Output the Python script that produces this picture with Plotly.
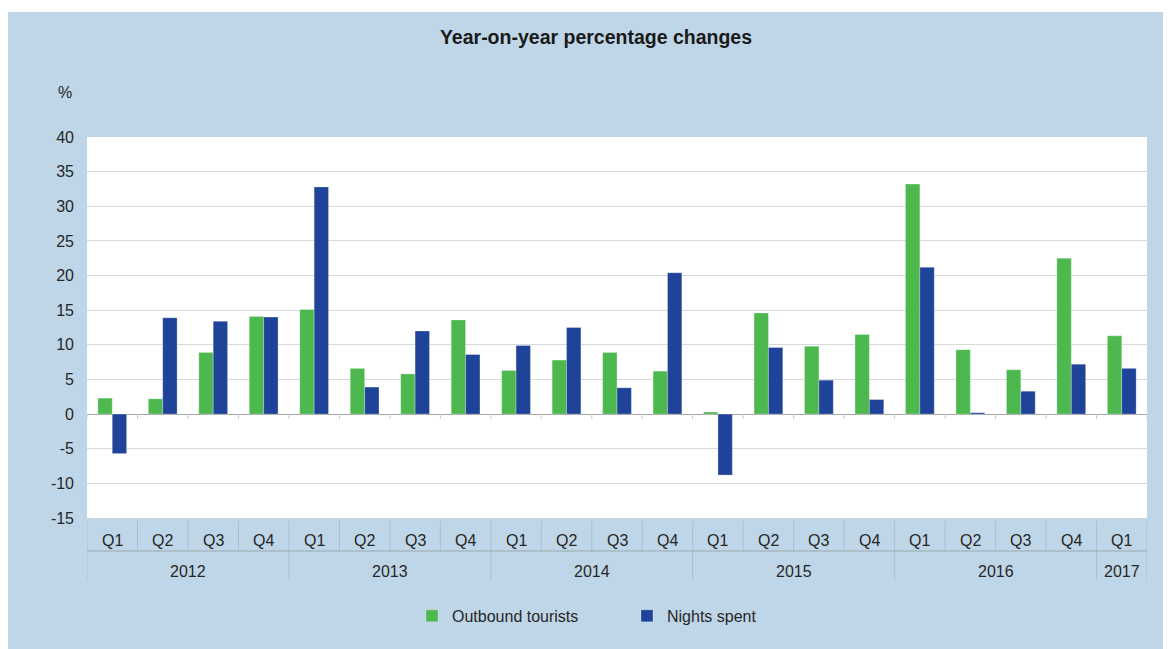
import plotly.graph_objects as go

# ---- data ----
years = ["2012", "2013", "2014", "2015", "2016", "2017"]
quarters_per_year = [4, 4, 4, 4, 4, 1]
quarter_names = ["Q1", "Q2", "Q3", "Q4"]

outbound_tourists = [2.3, 2.2, 8.9, 14.1,
                     15.1, 6.6, 5.8, 13.6,
                     6.3, 7.8, 8.9, 6.2,
                     0.3, 14.6, 9.8, 11.5,
                     33.2, 9.3, 6.4, 22.5,
                     11.3]
nights_spent = [-5.7, 13.9, 13.4, 14.0,
                32.8, 3.9, 12.0, 8.6,
                9.9, 12.5, 3.8, 20.4,
                -8.8, 9.6, 4.9, 2.1,
                21.2, 0.2, 3.3, 7.2,
                6.6]

y_tick_values = [-15, -10, -5, 0, 5, 10, 15, 20, 25, 30, 35, 40]
y_tick_labels = ["-15", "-10", "-5", "0", "5", "10", "15", "20", "25", "30", "35", "40"]

# build category labels
cat_year, cat_q = [], []
for y, n in zip(years, quarters_per_year):
    for q in quarter_names[:n]:
        cat_year.append(y)
        cat_q.append(q)
cats = [f"{y} {q}" for y, q in zip(cat_year, cat_q)]

FONT = "Liberation Sans, Arial, sans-serif"
TXT = "#262626"
BG = "#BFD6E8"
GREEN = "#4DB84E"
BLUE = "#1F4399"

fig = go.Figure()
fig.add_trace(go.Bar(x=cats, y=outbound_tourists, name="Outbound tourists",
                     marker=dict(color=GREEN, line=dict(color="rgba(255,255,255,0.35)", width=0.8))))
fig.add_trace(go.Bar(x=cats, y=nights_spent, name="Nights spent",
                     marker=dict(color=BLUE, line=dict(color="rgba(255,255,255,0.35)", width=0.8))))

shapes = []
n = len(cats)
for i in range(n + 1):
    shapes.append(dict(type="line", xref="x", yref="paper", x0=i - 0.5, x1=i - 0.5,
                       ysizemode="pixel", yanchor=0, y0=-3, y1=-33,
                       line=dict(color="#A9BFD0", width=1)))
    shapes.append(dict(type="line", xref="x", yref="y", x0=i - 0.5, x1=i - 0.5,
                       ysizemode="pixel", yanchor=0, y0=0, y1=-5,
                       line=dict(color="#C8CCD0", width=1)))
bounds = [0]
for c in quarters_per_year:
    bounds.append(bounds[-1] + c)
for b in bounds:
    shapes.append(dict(type="line", xref="x", yref="paper", x0=b - 0.5, x1=b - 0.5,
                       ysizemode="pixel", yanchor=0, y0=-33, y1=-62,
                       line=dict(color="#A9BFD0", width=1)))
shapes.append(dict(type="line", xref="paper", yref="paper", x0=0, x1=1,
                   ysizemode="pixel", yanchor=0, y0=-33, y1=-33,
                   line=dict(color="#9EA7AF", width=1.2)))
# white strip at very top (page margin look)
shapes.append(dict(type="rect", xref="paper", yref="paper", x0=-0.2, x1=1.2,
                   ysizemode="pixel", yanchor=1, y0=125, y1=140,
                   fillcolor="white", line=dict(width=0), layer="above"))

annotations = []
for i, q in enumerate(cat_q):
    annotations.append(dict(x=cats[i], y=0, xref="x", yref="paper", text=q, showarrow=False,
                            yanchor="middle", yshift=-22, font=dict(family=FONT, size=16, color=TXT)))
for k, y in enumerate(years):
    mid = (bounds[k] + bounds[k + 1] - 1) / 2
    annotations.append(dict(x=mid, y=0, xref="x", yref="paper", text=y, showarrow=False,
                            yanchor="middle", yshift=-53, font=dict(family=FONT, size=16, color=TXT)))
annotations.append(dict(x=0, y=1, xref="paper", yref="paper", xshift=-22, yshift=45,
                        text="%", showarrow=False, xanchor="center", yanchor="middle",
                        font=dict(family=FONT, size=16, color=TXT)))

W, H = 1163, 641
fig.update_layout(
    width=W, height=H,
    paper_bgcolor=BG, plot_bgcolor="white",
    margin=dict(l=79, r=24, t=129, b=131),
    font=dict(family=FONT, size=16, color=TXT),
    title=dict(text="<b>Year-on-year percentage changes</b>", x=(596 - 8) / W, xanchor="center",
               y=1 - 29 / H, yanchor="middle", font=dict(family=FONT, size=19.5, color="#1a1a1a")),
    barmode="group", bargap=0.43, bargroupgap=0,
    showlegend=True,
    legend=dict(orientation="h", x=0.3066, xanchor="left", y=-0.257, yanchor="middle",
                font=dict(family=FONT, size=16, color=TXT), bgcolor="rgba(0,0,0,0)",
                entrywidth=170, entrywidthmode="pixels", itemwidth=30),
    shapes=shapes,
    annotations=annotations,
)

fig.update_xaxes(showticklabels=False, showgrid=False, showline=True,
                 linecolor="#C9D6E0", linewidth=1, mirror=False, range=[-0.5, n - 0.5])
fig.update_yaxes(range=[-15, 40], tickvals=y_tick_values, ticktext=y_tick_labels,
                 showgrid=True, gridcolor="#D9D9D9", gridwidth=1,
                 zeroline=True, zerolinecolor="#A6A6A6", zerolinewidth=1,
                 ticks="", ticklabelstandoff=12, tickfont=dict(family=FONT, size=16, color=TXT),
                 showline=False)

fig.write_html("out.html")
